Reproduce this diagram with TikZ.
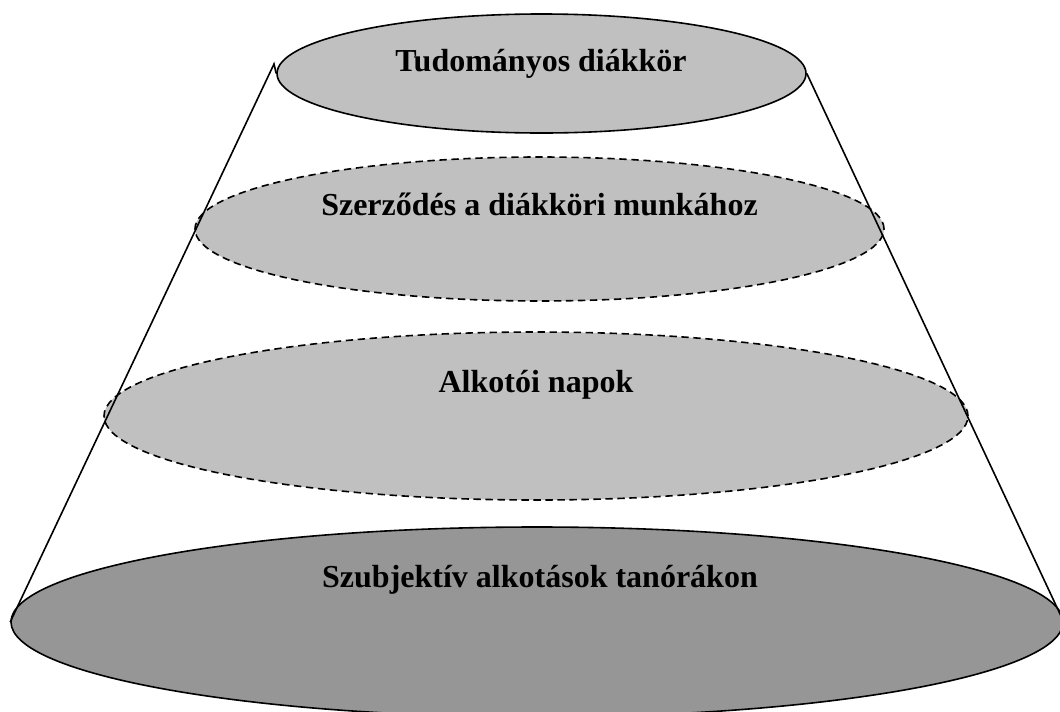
\documentclass[tikz,border=0pt]{standalone}
\usepackage{fontspec}
\setmainfont{Liberation Serif}
\usetikzlibrary{shapes.geometric}
\definecolor{lightfill}{HTML}{C0C0C0}
\definecolor{darkfill}{HTML}{969696}
\begin{document}
\begin{tikzpicture}[x=0.75pt,y=-0.75pt,
  layer/.style={ellipse,draw,line width=1.2pt,inner sep=0pt,fill=lightfill},
  dashedlayer/.style={layer,dash pattern=on 5.5pt off 3.5pt},
  lbl/.style={anchor=base,font=\bfseries\fontsize{24}{28}\selectfont}]
\clip (0,0) rectangle (1060,711);
\node [layer,minimum width=396.75pt,minimum height=89.25pt] (e1) at (541.5,73.5) {};
\node [dashedlayer,minimum width=516.75pt,minimum height=108pt] (e2) at (539.5,229) {};
\node [dashedlayer,minimum width=648pt,minimum height=126pt] (e3) at (536,416) {};
\node [layer,fill=darkfill,minimum width=789pt,minimum height=142.5pt] (e4) at (537,622) {};
\coordinate (tl) at (274,64);

\draw [line width=1.2pt] (e1.west) -- (tl) -- (e4.west);
\draw [line width=1.2pt] (e1.east) -- (e4.east);

\node [lbl] (t1) at (541,71) {Tudományos diákkör};
\node [lbl] (t2) at (539.5,215) {Szerződés a diákköri munkához};
\node [lbl] (t3) at (536,392) {Alkotói napok};
\node [lbl] (t4) at (540,587) {Szubjektív alkotások tanórákon};
\end{tikzpicture}
\end{document}
